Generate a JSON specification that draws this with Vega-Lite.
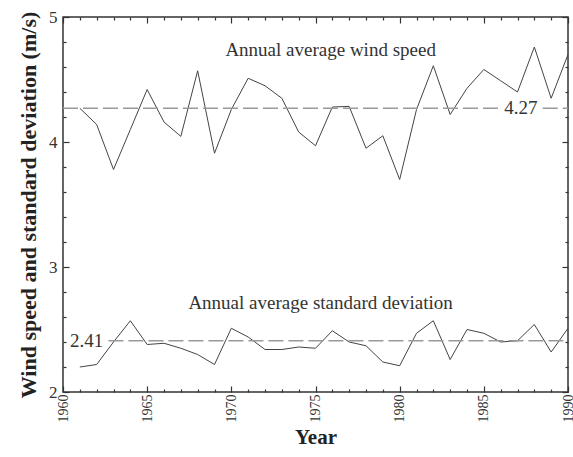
{
  "$schema": "https://vega.github.io/schema/vega-lite/v6.json",
  "autosize": {"type": "none"},
  "padding": {"left": 63, "top": 17, "right": 5, "bottom": 65},
  "width": 505,
  "height": 375,
  "background": "white",
  "config": {
    "view": {"stroke": "#333", "strokeWidth": 1.5},
    "axis": {
      "labelFont": "Liberation Serif",
      "labelFontSize": 17,
      "labelColor": "#333",
      "titleFont": "Liberation Serif",
      "titleFontSize": 22,
      "titleFontWeight": "bold",
      "titleColor": "#222",
      "domain": false,
      "grid": false,
      "zindex": 1
    }
  },
  "datasets": {
    "series": [
      {"year": 1961, "wind": 4.27, "sd": 2.20},
      {"year": 1962, "wind": 4.14, "sd": 2.22},
      {"year": 1963, "wind": 3.78, "sd": 2.40},
      {"year": 1964, "wind": 4.10, "sd": 2.57},
      {"year": 1965, "wind": 4.42, "sd": 2.38},
      {"year": 1966, "wind": 4.16, "sd": 2.39},
      {"year": 1967, "wind": 4.045, "sd": 2.35},
      {"year": 1968, "wind": 4.57, "sd": 2.30},
      {"year": 1969, "wind": 3.91, "sd": 2.22},
      {"year": 1970, "wind": 4.26, "sd": 2.51},
      {"year": 1971, "wind": 4.51, "sd": 2.44},
      {"year": 1972, "wind": 4.45, "sd": 2.34},
      {"year": 1973, "wind": 4.35, "sd": 2.34},
      {"year": 1974, "wind": 4.08, "sd": 2.36},
      {"year": 1975, "wind": 3.97, "sd": 2.35},
      {"year": 1976, "wind": 4.28, "sd": 2.49},
      {"year": 1977, "wind": 4.285, "sd": 2.40},
      {"year": 1978, "wind": 3.95, "sd": 2.37},
      {"year": 1979, "wind": 4.05, "sd": 2.24},
      {"year": 1980, "wind": 3.70, "sd": 2.21},
      {"year": 1981, "wind": 4.26, "sd": 2.47},
      {"year": 1982, "wind": 4.61, "sd": 2.57},
      {"year": 1983, "wind": 4.22, "sd": 2.26},
      {"year": 1984, "wind": 4.43, "sd": 2.50},
      {"year": 1985, "wind": 4.58, "sd": 2.47},
      {"year": 1986, "wind": 4.49, "sd": 2.40},
      {"year": 1987, "wind": 4.40, "sd": 2.41},
      {"year": 1988, "wind": 4.76, "sd": 2.54},
      {"year": 1989, "wind": 4.35, "sd": 2.32},
      {"year": 1990, "wind": 4.70, "sd": 2.51}
    ],
    "means": [
      {"x": 1960, "x2": 1986.0, "y": 4.27},
      {"x": 1988.5, "x2": 1990, "y": 4.27},
      {"x": 1962.7, "x2": 1990, "y": 2.41}
    ],
    "labels": [
      {"x": 1975.9, "y": 4.74, "text": "Annual average wind speed"},
      {"x": 1975.3, "y": 2.71, "text": "Annual average standard deviation"},
      {"x": 1987.2, "y": 4.27, "text": "4.27"},
      {"x": 1961.4, "y": 2.41, "text": "2.41"}
    ]
  },
  "resolve": {"axis": {"x": "independent", "y": "independent"}},
  "layer": [
    {
      "data": {"name": "series"},
      "mark": {"type": "line", "color": "#444", "strokeWidth": 1},
      "encoding": {
        "x": {
          "field": "year", "type": "quantitative",
          "scale": {"domain": [1960, 1990], "nice": false, "zero": false},
          "axis": {
            "orient": "bottom", "title": "Year", "format": "d",
            "values": [1960, 1965, 1970, 1975, 1980, 1985, 1990],
            "tickSize": -6, "tickColor": "#333", "tickWidth": 1.2,
            "labelFontSize": 14, "labelFlush": false,
            "labelAngle": 270, "labelPadding": 8, "titleFontSize": 21, "titlePadding": 4
          }
        },
        "y": {
          "field": "wind", "type": "quantitative",
          "scale": {"domain": [2, 5], "nice": false, "zero": false},
          "axis": {
            "orient": "left", "title": "Wind speed and standard deviation (m/s)",
            "format": "d", "values": [2, 3, 4, 5],
            "tickSize": -6, "tickColor": "#333", "tickWidth": 1.2,
            "labelFlush": false, "labelPadding": 12, "titlePadding": 8
          }
        }
      }
    },
    {
      "data": {"name": "series"},
      "mark": {"type": "line", "color": "#444", "strokeWidth": 1},
      "encoding": {
        "x": {
          "field": "year", "type": "quantitative",
          "axis": {"orient": "top", "title": null, "labels": false, "values": [1960, 1965, 1970, 1975, 1980, 1985, 1990], "tickSize": -6, "tickColor": "#333", "tickWidth": 1.2}
        },
        "y": {
          "field": "sd", "type": "quantitative",
          "axis": {"orient": "right", "title": null, "labels": false, "values": [2, 3, 4, 5], "tickSize": -6, "tickColor": "#333", "tickWidth": 1.2}
        }
      }
    },
    {
      "data": {"name": "means"},
      "mark": {"type": "rule", "color": "#999", "strokeWidth": 1.5, "strokeDash": [15, 5]},
      "encoding": {
        "x": {
          "field": "x", "type": "quantitative",
          "axis": {"orient": "bottom", "title": null, "labels": false, "tickSize": -3, "tickColor": "#333", "tickWidth": 1.2,
            "values": [1961,1962,1963,1964,1966,1967,1968,1969,1971,1972,1973,1974,1976,1977,1978,1979,1981,1982,1983,1984,1986,1987,1988,1989]}
        },
        "x2": {"field": "x2"},
        "y": {
          "field": "y", "type": "quantitative",
          "axis": {"orient": "left", "title": null, "labels": false, "tickSize": -3, "tickColor": "#333", "tickWidth": 1.2,
            "values": [2.2, 2.4, 2.6, 2.8, 3.2, 3.4, 3.6, 3.8, 4.2, 4.4, 4.6, 4.8]}
        }
      }
    },
    {
      "data": {"name": "labels"},
      "mark": {"type": "text", "font": "Liberation Serif", "fontSize": 19, "color": "#333", "align": "center", "baseline": "middle"},
      "encoding": {
        "x": {
          "field": "x", "type": "quantitative",
          "axis": {"orient": "top", "title": null, "labels": false, "tickSize": -3, "tickColor": "#333", "tickWidth": 1.2,
            "values": [1961,1962,1963,1964,1966,1967,1968,1969,1971,1972,1973,1974,1976,1977,1978,1979,1981,1982,1983,1984,1986,1987,1988,1989]}
        },
        "y": {
          "field": "y", "type": "quantitative",
          "axis": {"orient": "right", "title": null, "labels": false, "tickSize": -3, "tickColor": "#333", "tickWidth": 1.2,
            "values": [2.2, 2.4, 2.6, 2.8, 3.2, 3.4, 3.6, 3.8, 4.2, 4.4, 4.6, 4.8]}
        },
        "text": {"field": "text"}
      }
    }
  ]
}
